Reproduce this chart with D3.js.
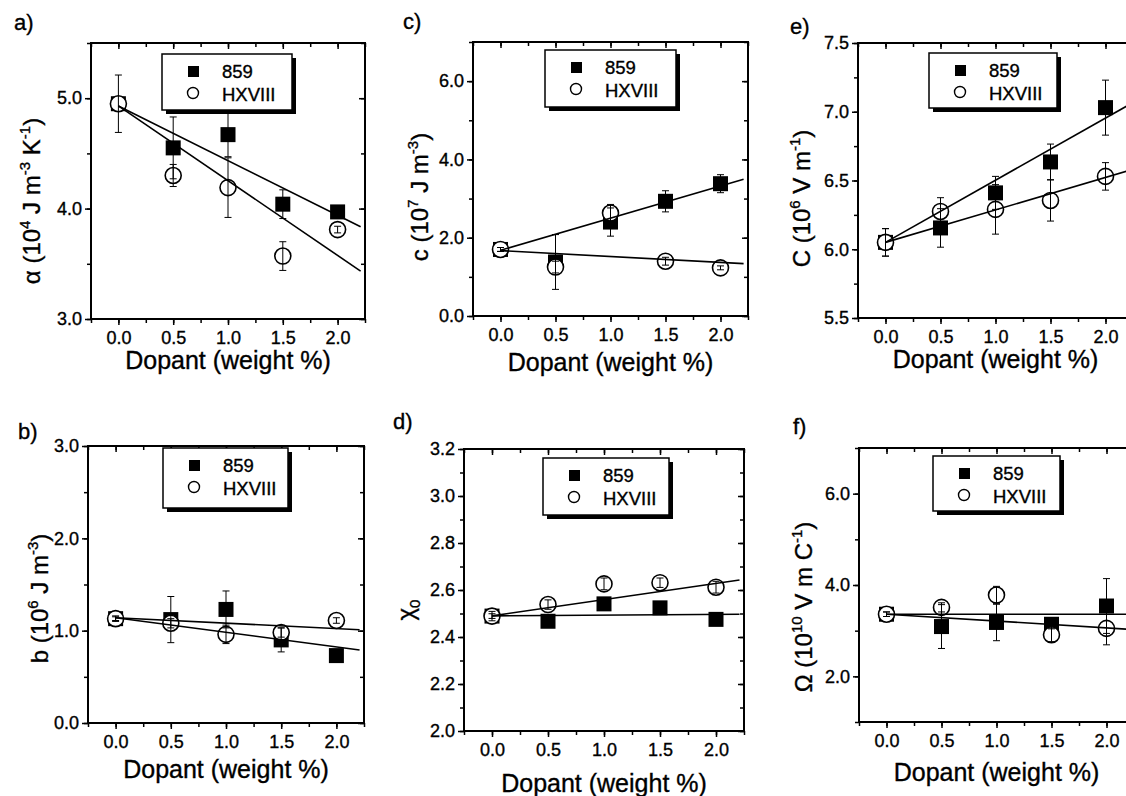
<!DOCTYPE html>
<html>
<head>
<meta charset="utf-8">
<title>Dopant panels</title>
<script src="https://cdn.jsdelivr.net/npm/d3@7"></script>
<style>
  body { margin: 0; background: #fff; }
  text { font-family: "Liberation Sans", Arial, sans-serif; fill: #000; stroke: #000; stroke-width: 0.35px; }
</style>
</head>
<body>
<script>

// x values (dopant, weight %)
var dopant = [0.0, 0.5, 1.0, 1.5, 2.0];
var seriesNames = ["859", "HXVIII"];
var xTicks = [0.0, 0.5, 1.0, 1.5, 2.0];
var fitRange = [0, 2.21];

// a) alpha
var alpha859 = [4.95, 4.55, 4.67, 4.04, 3.97];
var alpha859Err = [0.26, 0.28, 0.20, 0.13, 0.03];
var alphaHX = [4.95, 4.30, 4.19, 3.57, 3.81];
var alphaHXErr = [0, 0.10, 0.27, 0.13, 0.03];
var alphaFit = [[4.93, -0.495], [4.93, -0.677]];   // intercept, slope
var alphaTicks = [3.0, 4.0, 5.0];

// b) b
var b859 = [1.13, 1.12, 1.23, 0.90, 0.73];
var b859Err = [0.03, 0.25, 0.20, 0.13, 0.04];
var bHX = [1.13, 1.08, 0.96, 0.98, 1.11];
var bHXErr = [0.02, 0.05, 0.10, 0.05, 0.03];
var bFit = [[1.14, -0.158], [1.14, -0.059]];
var bTicks = [0.0, 1.0, 2.0, 3.0];

// c) c
var c859 = [1.70, 1.38, 2.40, 2.93, 3.38];
var c859Err = [0.05, 0.70, 0.36, 0.27, 0.23];
var cHX = [1.70, 1.25, 2.63, 1.40, 1.23];
var cHXErr = [0.05, 0.15, 0.22, 0.10, 0.05];
var cFit = [[1.68, 0.82], [1.67, -0.15]];
var cTicks = [0.0, 2.0, 4.0, 6.0];

// d) chi0
var chi859 = [2.489, 2.467, 2.541, 2.524, 2.475];
var chi859Err = [0.01, 0.01, 0.01, 0.01, 0.01];
var chiHX = [2.489, 2.538, 2.626, 2.631, 2.612];
var chiHXErr = [0.02, 0.02, 0.025, 0.02, 0.025];
var chiFit = [[2.49, 0.003], [2.49, 0.069]];
var chiTicks = [2.0, 2.2, 2.4, 2.6, 2.8, 3.0, 3.2];

// e) C
var C859 = [6.05, 6.155, 6.41, 6.635, 7.03];
var C859Err = [0.10, 0.14, 0.12, 0.13, 0.20];
var CHX = [6.05, 6.275, 6.29, 6.355, 6.53];
var CHXErr = [0.10, 0.10, 0.18, 0.15, 0.10];
var CFit = [[6.05, 0.452], [6.05, 0.236]];
var CTicks = [5.5, 6.0, 6.5, 7.0, 7.5];

// f) Omega
var om859 = [3.36, 3.09, 3.18, 3.14, 3.54];
var om859Err = [0.05, 0.48, 0.40, 0.10, 0.60];
var omHX = [3.36, 3.51, 3.78, 2.91, 3.05];
var omHXErr = [0.05, 0.10, 0.19, 0.15, 0.36];
var omFit = [[3.36, 0.0], [3.36, -0.15]];
var omTicks = [2.0, 4.0, 6.0];

// panel table (data + axis setup + layout)
var panels = [
  { id: "a)", s: [alpha859, alphaHX], e: [alpha859Err, alphaHXErr], fit: alphaFit,
    yDom: [3.0, 5.5], yTicks: alphaTicks, yMinor: 0.5,
    label: [["α (10", 0], ["4", 1], [" J m", 0], ["-3", 1], [" K", 0], ["-1", 1], [")", 0]],
    box: [91, 43, 274, 276], letter: [14, 30], leg: [71, 11, 130, 56], xl: 50, yl: [-51, 20] },
  { id: "b)", s: [b859, bHX], e: [b859Err, bHXErr], fit: bFit,
    yDom: [0, 3.0], yTicks: bTicks, yMinor: 0.5,
    label: [["b (10", 0], ["6", 1], [" J m", 0], ["-3", 1], [")", 0]],
    box: [88, 446, 276, 277], letter: [18, 439], leg: [75, 2, 125, 60], xl: 55, yl: [-40, 14] },
  { id: "c)", s: [c859, cHX], e: [c859Err, cHXErr], fit: cFit,
    yDom: [0, 7.0], yTicks: cTicks, yMinor: 1,
    label: [["c (10", 0], ["7", 1], [" J m", 0], ["-3", 1], [")", 0]],
    box: [473, 42, 275, 274], letter: [403, 29], leg: [72, 8, 131, 57], xl: 55, yl: [-45, 18] },
  { id: "d)", s: [chi859, chiHX], e: [chi859Err, chiHXErr], fit: chiFit,
    yDom: [2.0, 3.2], yTicks: chiTicks, yMinor: 0.1,
    label: [["χ", 0], ["0", 2]],
    box: [464, 449, 280, 282], letter: [393, 429], leg: [79, 9, 126, 57], xl: 61, yl: [-50, 20] },
  { id: "e)", s: [C859, CHX], e: [C859Err, CHXErr], fit: CFit,
    yDom: [5.5, 7.5], yTicks: CTicks, yMinor: 0.25,
    label: [["C (10", 0], ["6", 1], [" V m", 0], ["-1", 1], [")", 0]],
    box: [858, 43, 275, 275], letter: [790, 34], leg: [71, 10, 128, 55], xl: 50, yl: [-48, 18] },
  { id: "f)", s: [om859, omHX], e: [om859Err, omHXErr], fit: omFit,
    yDom: [1.0, 7.0], yTicks: omTicks, yMinor: 1,
    label: [["Ω (10", 0], ["10", 1], [" V m C", 0], ["-1", 1], [")", 0]],
    box: [859, 448, 275, 274], letter: [793, 434], leg: [74, 8, 127, 55], xl: 59, yl: [-47, 22] }
];

var W = 1126, H = 796;
var svg = d3.select("body").append("svg")
    .attr("width", W)
    .attr("height", H);

var fmt = d3.format(".1f");

panels.forEach(function (p) {
  var L = p.box[0], T = p.box[1], w = p.box[2], h = p.box[3];

  var x = d3.scaleLinear().domain([-0.25, 2.25]).range([0, w]);
  var y = d3.scaleLinear().domain(p.yDom).range([h, 0]);

  var g = svg.append("g").attr("transform", "translate(" + L + "," + T + ")");

  var xMinor = d3.range(-0.25, 2.2501, 0.25);
  var yMinor = d3.range(p.yDom[0], p.yDom[1] + 1e-6, p.yMinor);

  function styleAxis(sel) {
    sel.select(".domain").remove();
    sel.selectAll("line").attr("stroke", "#000").attr("stroke-width", 1.5);
    sel.selectAll("text").attr("font-size", 18).attr("fill", "#000")
       .attr("font-family", "'Liberation Sans', Arial, sans-serif");
  }

  // bottom (outward)
  g.append("g").attr("transform", "translate(0," + h + ")")
    .call(d3.axisBottom(x).tickValues(xMinor).tickSize(4).tickFormat(""))
    .call(styleAxis);
  g.append("g").attr("transform", "translate(0," + h + ")")
    .call(d3.axisBottom(x).tickValues(xTicks).tickSize(6).tickPadding(6).tickFormat(fmt))
    .call(styleAxis);
  // top (inward)
  g.append("g")
    .call(d3.axisBottom(x).tickValues(xMinor).tickSize(4).tickFormat(""))
    .call(styleAxis);
  g.append("g")
    .call(d3.axisBottom(x).tickValues(xTicks).tickSize(6).tickFormat(""))
    .call(styleAxis);
  // left (outward)
  g.append("g")
    .call(d3.axisLeft(y).tickValues(yMinor).tickSize(4).tickFormat(""))
    .call(styleAxis);
  g.append("g")
    .call(d3.axisLeft(y).tickValues(p.yTicks).tickSize(6).tickPadding(3).tickFormat(fmt))
    .call(styleAxis);
  // right (inward)
  g.append("g").attr("transform", "translate(" + w + ",0)")
    .call(d3.axisLeft(y).tickValues(yMinor).tickSize(4).tickFormat(""))
    .call(styleAxis);
  g.append("g").attr("transform", "translate(" + w + ",0)")
    .call(d3.axisLeft(y).tickValues(p.yTicks).tickSize(6).tickFormat(""))
    .call(styleAxis);

  // frame
  g.append("rect")
    .attr("width", w).attr("height", h)
    .attr("fill", "none").attr("stroke", "#000").attr("stroke-width", 2);

  // squares (859)
  g.selectAll("rect.sq").data(p.s[0]).enter().append("rect")
    .attr("class", "sq")
    .attr("x", function (d, i) { return x(dopant[i]) - 7.5; })
    .attr("y", function (d) { return y(d) - 7.5; })
    .attr("width", 15).attr("height", 15)
    .attr("fill", "#000");

  // circles (HXVIII)
  g.selectAll("circle.ci").data(p.s[1]).enter().append("circle")
    .attr("class", "ci")
    .attr("cx", function (d, i) { return x(dopant[i]); })
    .attr("cy", function (d) { return y(d); })
    .attr("r", 8)
    .attr("fill", "#fff").attr("stroke", "#000").attr("stroke-width", 1.6);

  // error bars
  [0, 1].forEach(function (k) {
    var eb = g.append("g").attr("stroke", "#000").attr("stroke-width", 1);
    p.s[k].forEach(function (v, i) {
      var err = p.e[k][i];
      if (!err) return;
      var cx = x(dopant[i]), y1 = y(v + err), y2 = y(v - err);
      eb.append("line").attr("x1", cx).attr("x2", cx).attr("y1", y1).attr("y2", y2);
      eb.append("line").attr("x1", cx - 3.5).attr("x2", cx + 3.5).attr("y1", y1).attr("y2", y1);
      eb.append("line").attr("x1", cx - 3.5).attr("x2", cx + 3.5).attr("y1", y2).attr("y2", y2);
    });
  });

  // fit lines
  p.fit.forEach(function (f) {
    g.append("line")
      .attr("x1", x(fitRange[0])).attr("y1", y(f[0] + f[1] * fitRange[0]))
      .attr("x2", x(fitRange[1])).attr("y2", y(f[0] + f[1] * fitRange[1]))
      .attr("stroke", "#000").attr("stroke-width", 1.6);
  });

  // legend
  var lg = g.append("g").attr("transform", "translate(" + p.leg[0] + "," + p.leg[1] + ")");
  lg.append("rect").attr("x", 4).attr("y", 4).attr("width", p.leg[2]).attr("height", p.leg[3])
    .attr("fill", "#000");
  lg.append("rect").attr("width", p.leg[2]).attr("height", p.leg[3])
    .attr("fill", "#fff").attr("stroke", "#000").attr("stroke-width", 1.5);
  lg.append("rect").attr("x", 26).attr("y", 12).attr("width", 11).attr("height", 11).attr("fill", "#000");
  lg.append("circle").attr("cx", 31).attr("cy", 39).attr("r", 5.5)
    .attr("fill", "#fff").attr("stroke", "#000").attr("stroke-width", 1.4);
  lg.selectAll("text").data(seriesNames).enter().append("text")
    .attr("x", 60)
    .attr("y", function (d, i) { return i === 0 ? 24 : 47; })
    .attr("font-size", 18.5)
    .text(function (d) { return d; });

  // x label
  g.append("text")
    .attr("x", w / 2).attr("y", h + p.xl)
    .attr("text-anchor", "middle")
    .attr("font-size", 25)
    .text("Dopant (weight %)");

  // y label
  var yt = g.append("text")
    .attr("transform", "translate(" + p.yl[0] + "," + (h / 2 + p.yl[1]) + ") rotate(-90)")
    .attr("text-anchor", "middle")
    .attr("font-size", 24);
  var shift = 0;
  p.label.forEach(function (part) {
    var ts = yt.append("tspan").text(part[0]);
    if (part[1] === 1) { ts.attr("font-size", 15).attr("dy", -10 - shift); shift = -10; }
    else if (part[1] === 2) { ts.attr("font-size", 15).attr("dy", 6 - shift); shift = 6; }
    else { ts.attr("dy", -shift); shift = 0; }
  });

  // panel letter
  svg.append("text")
    .attr("x", p.letter[0]).attr("y", p.letter[1])
    .attr("font-size", 22)
    .text(p.id);
});

</script>
</body>
</html>
